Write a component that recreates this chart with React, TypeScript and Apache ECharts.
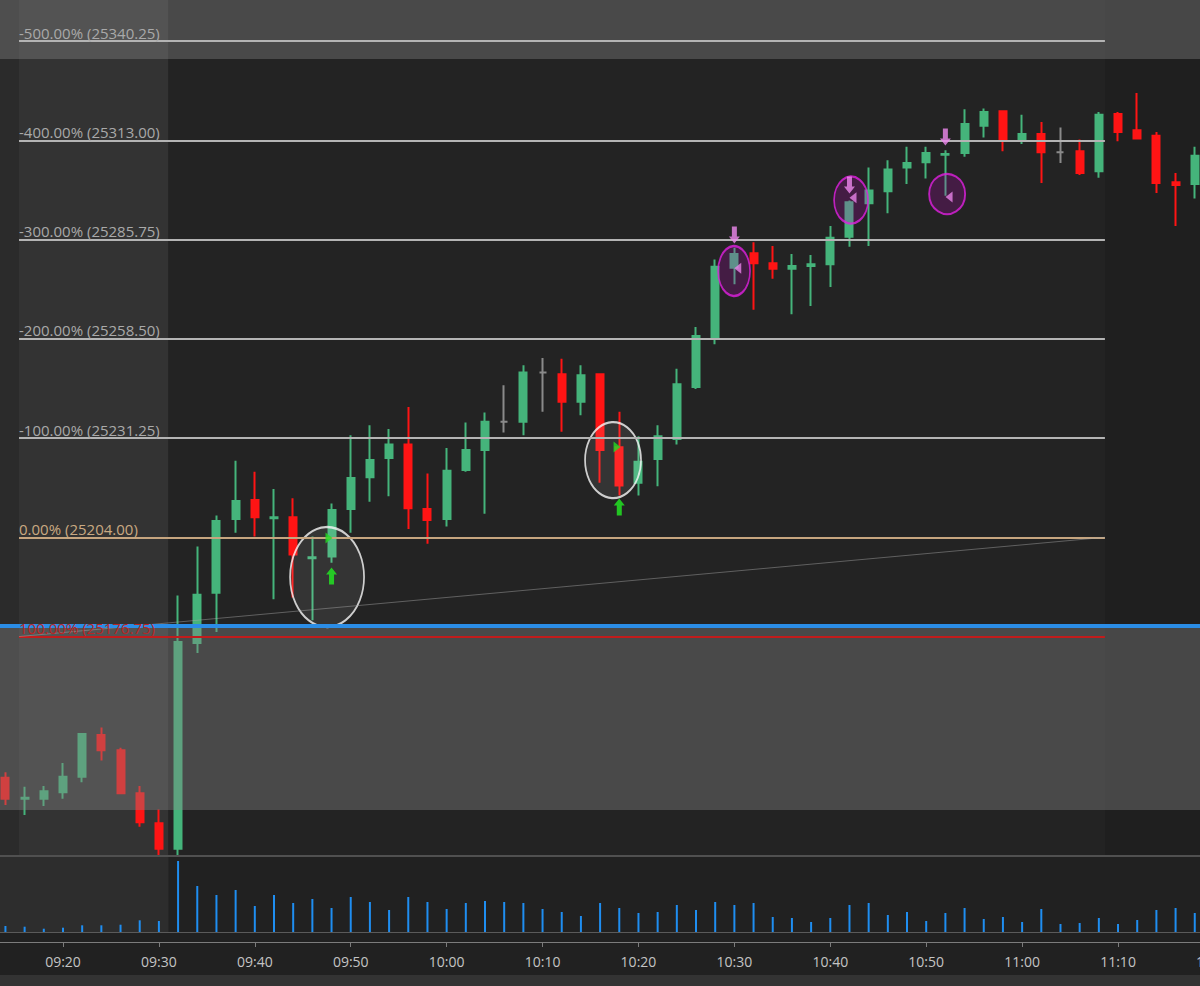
import React, { useEffect, useRef } from "react";
import * as echarts from "echarts";

// ---------- DATA ----------
const times = [
  "09:14","09:16","09:18","09:20","09:22","09:24","09:26","09:28","09:30","09:32",
  "09:34","09:36","09:38","09:40","09:42","09:44","09:46","09:48","09:50","09:52",
  "09:54","09:56","09:58","10:00","10:02","10:04","10:06","10:08","10:10","10:12",
  "10:14","10:16","10:18","10:20","10:22","10:24","10:26","10:28","10:30","10:32",
  "10:34","10:36","10:38","10:40","10:42","10:44","10:46","10:48","10:50","10:52",
  "10:54","10:56","10:58","11:00","11:02","11:04","11:06","11:08","11:10","11:12",
  "11:14","11:16","11:18",
];
const opens = [
  25138.0,25132.25,25132.25,25134.0,25138.25,25149.75,25145.5,25133.75,25125.5,25118.5,
  25175.0,25188.75,25209.0,25214.25,25209.25,25209.5,25198.25,25198.75,25211.75,25220.5,
  25225.75,25229.5,25211.75,25209.0,25222.5,25228.0,25235.75,25235.75,25249.25,25248.75,
  25241.25,25248.75,25228.75,25219.0,25225.5,25231.0,25245.25,25259.0,25278.0,25282.0,
  25279.25,25277.75,25278.5,25279.0,25286.5,25295.75,25299.0,25305.5,25307.0,25309.0,
  25309.5,25317.0,25321.0,25313.25,25314.75,25309.75,25310.0,25304.5,25320.25,25315.75,
  25314.25,25301.5,25301.0,
];
const closes = [
  25132.25,25132.5,25134.25,25138.25,25150.0,25145.5,25133.75,25125.75,25118.5,25175.25,
  25188.25,25208.5,25214.0,25209.5,25209.5,25199.25,25198.5,25211.5,25220.25,25225.25,
  25229.5,25212.0,25208.75,25222.25,25228.0,25235.75,25235.75,25249.25,25249.25,25241.25,
  25248.5,25228.0,25218.25,25224.75,25231.75,25246.0,25259.25,25278.25,25281.75,25279.25,
  25277.75,25278.5,25279.0,25286.25,25296.0,25299.25,25305.0,25306.75,25309.5,25309.25,
  25317.5,25320.75,25313.25,25314.75,25309.75,25309.75,25304.0,25320.0,25315.25,25313.5,
  25301.25,25300.75,25308.75,
];
const lows = [
  25130.5,25127.75,25130.25,25132.25,25136.75,25142.75,25133.5,25124.5,25116.25,25116.25,
  25172.25,25178.0,25205.25,25204.25,25187.0,25187.5,25181.25,25197.0,25205.25,25213.75,
  25215.25,25206.25,25202.25,25207.0,25222.0,25210.5,25232.75,25232.0,25238.5,25233.0,
  25237.5,25219.0,25215.5,25215.5,25218.0,25229.5,25244.75,25257.0,25273.5,25266.5,
  25275.0,25265.25,25267.5,25272.75,25283.75,25284.0,25293.0,25301.0,25302.5,25297.75,
  25308.5,25313.75,25310.0,25312.0,25301.25,25306.75,25303.5,25302.75,25312.75,25313.25,
  25298.5,25289.5,25297.0,
];
const highs = [
  25139.5,25135.5,25135.75,25142.0,25150.25,25151.75,25146.25,25135.75,25129.25,25188.0,
  25201.5,25210.0,25225.0,25222.0,25217.25,25214.75,25204.25,25213.25,25232.0,25234.75,
  25233.75,25239.75,25221.5,25228.5,25235.5,25238.25,25245.75,25251.25,25253.25,25253.0,
  25251.25,25249.0,25238.5,25231.75,25234.75,25250.25,25261.75,25280.25,25283.5,25285.0,
  25284.0,25281.75,25281.5,25289.5,25296.5,25305.5,25307.5,25311.25,25311.25,25310.25,
  25321.5,25321.75,25321.25,25320.0,25318.0,25316.5,25313.25,25320.75,25320.75,25326.0,
  25315.25,25304.0,25311.25,
];
const volumes = [
  600,530,330,430,670,670,730,1170,1100,7100,
  4600,3700,4200,2600,3700,2900,3300,2400,3500,3000,
  2200,3500,3000,2300,2900,3100,3000,2900,2300,2000,
  1600,2900,2400,1900,2000,2700,2200,3000,2700,2900,
  1500,1400,1000,1400,2700,2900,1700,2000,1100,1900,
  2400,1300,1500,1000,2300,800,900,1400,800,1200,
  2200,2400,1900,
];

const fibLevels = [-500, -400, -300, -200, -100, 0, 100];
const fibPrices = [25340.25, 25313.0, 25285.75, 25258.5, 25231.25, 25204.0, 25176.75];
const fibStart = "09:15:25";
const fibEnd = "11:08:38";
const blueLevel = 25179.75;

const tickLabels = [
  "09:20","09:30","09:40","09:50","10:00","10:10","10:20","10:30","10:40","10:50","11:00","11:10","11:20",
];

// annotations
const whiteCircleTimes = ["09:47:32", "10:17:21"];
const whiteCirclePrices = [25193.1, 25225.2];
const pinkCircleTimes = ["10:29:58", "10:42:10", "10:52:11"];
const pinkCirclePrices = [25277.1, 25296.6, 25298.25];
const upArrowTimes = ["09:48", "10:18"];
const upArrowPrices = [25193.4, 25212.3];
const downArrowTimes = ["10:30", "10:42", "10:52"];
const downArrowPrices = [25287.0, 25300.7, 25313.9];
const rightTriTimes = ["09:47:44", "10:17:46"];
const rightTriPrices = [25203.8, 25228.8];
const leftTriTimes = ["10:30:21", "10:42:22", "10:52:23"];
const leftTriPrices = [25277.9, 25297.2, 25297.4];

// ---------- HELPERS ----------
const toMin = (s: string) => {
  const p = s.split(":").map(Number);
  return p[0] * 60 + p[1] + (p[2] || 0) / 60;
};
const fmt = (v: number) => {
  const h = Math.floor(v / 60 + 1e-6);
  const m = Math.round(v - h * 60);
  return `${String(h).padStart(2, "0")}:${String(m).padStart(2, "0")}`;
};

const X_MIN = toMin("09:13:26");
const X_MAX = toMin("11:22:43");
const Y_MIN = 25109.91;
const Y_MAX = 25351.52;

const GREEN = "#45b47b";
const RED = "#ff1414";
const DOJI = "#8a8a8a";
const FONT = "'Open Sans', 'Noto Sans', sans-serif";

export default function App() {
  const ref = useRef<HTMLDivElement>(null);

  useEffect(() => {
    if (!ref.current) return;
    const chart = echarts.init(ref.current, undefined, { renderer: "svg" });

    const candleData = times.map((t, i) => {
      const item: any = { value: [toMin(t), opens[i], closes[i], lows[i], highs[i]] };
      if (opens[i] === closes[i]) {
        item.itemStyle = {
          color: DOJI, color0: DOJI, borderColor: DOJI, borderColor0: DOJI, borderColorDoji: DOJI,
        };
      }
      return item;
    });

    const tickValues = tickLabels.map(toMin);

    const fibLines: any[] = fibLevels.map((lvl, i) => {
      const color = lvl === 0 ? "#c6a57f" : lvl === 100 ? "#c21c1c" : "#b4b4b4";
      const labelColor = lvl === 0 ? "#c9a982" : lvl === 100 ? "#b82626" : "#a9a9a9";
      return [
        {
          coord: [toMin(fibStart), fibPrices[i]],
          lineStyle: { color, width: 2, type: "solid" },
          label: {
            show: true,
            position: "insideStartTop",
            formatter: `${lvl.toFixed(2)}% (${fibPrices[i].toFixed(2)})`,
            color: labelColor,
            fontSize: 15,
            fontFamily: FONT,
            distance: [0, 1],
          },
        },
        { coord: [toMin(fibEnd), fibPrices[i]] },
      ];
    });

    const diagLine = [
      {
        coord: [toMin(fibStart), fibPrices[6]],
        lineStyle: { color: "rgba(170,170,170,0.45)", width: 1, type: "solid" },
        label: { show: false },
      },
      { coord: [toMin(fibEnd), fibPrices[5]] },
    ];

    const blueLine = {
      yAxis: blueLevel,
      lineStyle: { color: "#2b8de6", width: 4, type: "solid" },
      label: { show: false },
    };

    const arrowPath = "path://M5.5,0 L11,7 L8,7 L8,17 L3,17 L3,7 L0,7 Z";

    const option: any = {
      animation: false,
      backgroundColor: "#212121",
      grid: [
        { left: 0, width: 1240, top: 0, height: 880, outerBoundsMode: "none", containLabel: false },
        { left: 0, width: 1240, top: 856, height: 86, outerBoundsMode: "none", containLabel: false },
      ],
      xAxis: [
        { type: "value", gridIndex: 0, min: X_MIN, max: X_MAX, show: false },
        {
          type: "value",
          gridIndex: 1,
          min: X_MIN,
          max: X_MAX,
          position: "bottom",
          axisLine: { show: true, onZero: false, lineStyle: { color: "#7c7c7c", width: 1 } },
          axisTick: {
            show: true,
            customValues: tickValues,
            length: 5,
            lineStyle: { color: "#7c7c7c" },
          },
          axisLabel: {
            show: true,
            customValues: tickValues,
            formatter: (v: number) => fmt(v),
            color: "#c4c4c4",
            fontSize: 14,
            fontFamily: FONT,
            margin: 12,
            hideOverlap: false,
          },
          splitLine: { show: false },
        },
      ],
      yAxis: [
        { type: "value", gridIndex: 0, min: Y_MIN, max: Y_MAX, show: false, splitLine: { show: false } },
        { type: "value", gridIndex: 1, min: -1000, max: 7600, show: false, splitLine: { show: false } },
      ],
      graphic: [
        // backgrounds
        { type: "rect", z: -1, shape: { x: 0, y: 0, width: 19, height: 856 }, style: { fill: "#2b2b2b" }, silent: true },
        { type: "rect", z: -1, shape: { x: 19, y: 0, width: 149.5, height: 856 }, style: { fill: "#333333" }, silent: true },
        { type: "rect", z: -1, shape: { x: 168.5, y: 0, width: 936.5, height: 856 }, style: { fill: "#232323" }, silent: true },
        { type: "rect", z: -1, shape: { x: 1105, y: 0, width: 95, height: 856 }, style: { fill: "#1f1f1f" }, silent: true },
        { type: "rect", z: -1, shape: { x: 0, y: 856, width: 168.5, height: 76 }, style: { fill: "#2d2d2d" }, silent: true },
        // translucent bands
        { type: "rect", z: 3, shape: { x: 0, y: 0, width: 1200, height: 59 }, style: { fill: "rgba(135,135,135,0.39)" }, silent: true },
        { type: "rect", z: 3, shape: { x: 0, y: 626, width: 1200, height: 184 }, style: { fill: "rgba(135,135,135,0.39)" }, silent: true },
        // separator & bottom strip
        { type: "rect", z: 6, shape: { x: 0, y: 855, width: 1200, height: 2 }, style: { fill: "#505050" }, silent: true },
        { type: "rect", z: 6, shape: { x: 0, y: 975, width: 1200, height: 11 }, style: { fill: "#333333" }, silent: true },
      ],
      series: [
        {
          type: "candlestick",
          xAxisIndex: 0,
          yAxisIndex: 0,
          z: 2,
          silent: true,
          barWidth: 7.5,
          encode: { x: 0, y: [1, 2, 3, 4] },
          data: candleData,
          itemStyle: {
            color: GREEN,
            color0: RED,
            borderColor: GREEN,
            borderColor0: RED,
            borderColorDoji: DOJI,
            borderWidth: 2,
          },
          markLine: {
            silent: true,
            symbol: ["none", "none"],
            animation: false,
            z: 5,
            data: [...fibLines, diagLine, blueLine],
          },
        },
        {
          type: "scatter",
          xAxisIndex: 0,
          yAxisIndex: 0,
          z: 4,
          silent: true,
          symbol: "circle",
          data: [
            ...whiteCircleTimes.map((t, i) => ({
              value: [toMin(t), whiteCirclePrices[i]],
              symbolSize: i === 0 ? [74, 100] : [56, 76],
              itemStyle: { color: "rgba(255,255,255,0.1)", borderColor: "#f7f7f7", borderWidth: 2 },
            })),
            ...pinkCircleTimes.map((t, i) => ({
              value: [toMin(t), pinkCirclePrices[i]],
              symbolSize: i === 0 ? [32, 50] : i === 1 ? [34, 47] : [36, 40],
              itemStyle: { color: "rgba(200,0,200,0.25)", borderColor: "#e020e0", borderWidth: 2 },
            })),
          ],
        },
        {
          type: "scatter",
          xAxisIndex: 0,
          yAxisIndex: 0,
          z: 7,
          silent: true,
          data: [
            ...upArrowTimes.map((t, i) => ({
              value: [toMin(t), upArrowPrices[i]],
              symbol: arrowPath,
              symbolSize: [11, 17],
              itemStyle: { color: "#22ee22" },
            })),
            ...downArrowTimes.map((t, i) => ({
              value: [toMin(t), downArrowPrices[i]],
              symbol: arrowPath,
              symbolSize: [11, 17],
              symbolRotate: 180,
              itemStyle: { color: "#ee88ee" },
            })),
            ...rightTriTimes.map((t, i) => ({
              value: [toMin(t), rightTriPrices[i]],
              symbol: "triangle",
              symbolSize: [11, 7],
              symbolRotate: -90,
              itemStyle: { color: "#22dd22" },
            })),
            ...leftTriTimes.map((t, i) => ({
              value: [toMin(t), leftTriPrices[i]],
              symbol: "triangle",
              symbolSize: [11, 7],
              symbolRotate: 90,
              itemStyle: { color: "#e883e8" },
            })),
          ],
        },
        {
          type: "bar",
          xAxisIndex: 1,
          yAxisIndex: 1,
          silent: true,
          barWidth: 2,
          itemStyle: { color: "#1f8ef1" },
          data: times.map((t, i) => [toMin(t), volumes[i]]),
          markLine: {
            silent: true,
            symbol: ["none", "none"],
            animation: false,
            data: [{ yAxis: 0, lineStyle: { color: "#5a5a5a", width: 1, type: "solid" }, label: { show: false } }],
          },
        },
      ],
    };

    chart.setOption(option);
    return () => chart.dispose();
  }, []);

  return (
    <div
      ref={ref}
      style={{ position: "fixed", left: 0, top: 0, width: 1200, height: 986 }}
    />
  );
}
